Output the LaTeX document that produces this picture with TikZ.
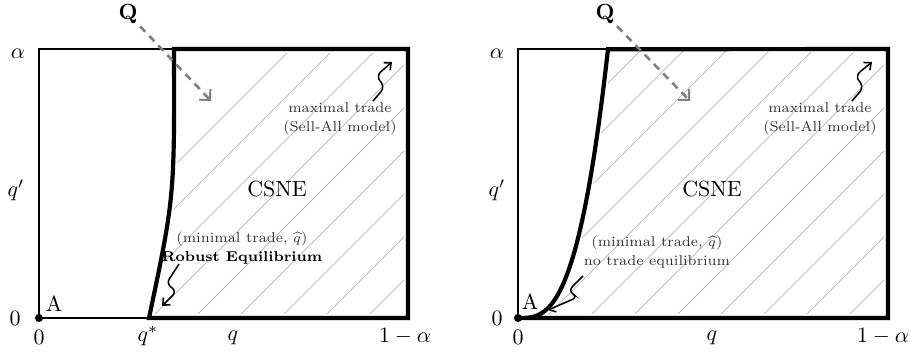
\documentclass[tikz,border=0pt]{standalone}
\usepackage{amsmath}
\usepackage{tikz}
\usetikzlibrary{arrows.meta, positioning}

\begin{document}
\begin{tikzpicture}[x=0.016cm, y=0.016cm,
    edge/.style={line width=0.7pt},
    border/.style={line width=1.9pt, line join=miter},
    hatch/.style={gray!50, line width=0.4pt},
    qarr/.style={-{Straight Barb[length=3.5pt, width=7pt, line width=0.9pt]}, gray,
                 line width=1.2pt, dash pattern=on 3.4pt off 2.6pt},
    squig/.style={-{Straight Barb[length=2.6pt, width=4.6pt]}, line width=0.7pt,
                  rounded corners=2.8pt},
    note/.style={font=\fontsize{6.5}{8.6}\selectfont, align=center, text=black!80, inner sep=1pt},
    tick/.style={inner sep=1pt}
]
    \useasboundingbox (0,0) rectangle (910,352);

    % left panel: hatched CSNE region
    \begin{scope}
        \clip (153,38) .. controls (178.5,155) .. (178,299) -- (404,299) -- (404,38) -- cycle;
        \foreach \k in {-7,...,6}
            \draw[hatch] ({323+43*\k},34) -- ++(269,269);
    \end{scope}
    \draw[edge] (174,303) -- (39,303) -- (39,34) -- (149,34);
    \draw[border] (149,34) .. controls (174.5,155) .. (174,303) -- (408,303) -- (408,34) -- cycle;

    \node[circle, fill, inner sep=1.3pt] (oL) at (39,34) {};
    \node[tick] (aL) at (18,298) {$\alpha$};
    \node[tick] (qpL) at (16,162) {$q'$};
    \node[tick] (zyL) at (15,34) {$0$};
    \node[tick] (zxL) at (39,15) {$0$};
    \node[tick] (qsL) at (148,16) {$q^*$};
    \node[tick] (qL) at (233,14) {$q$};
    \node[tick] (oneL) at (405,16) {$1-\alpha$};
    \node[tick] (ptL) at (54,48) {A};
    \node (csL) at (277,163) {CSNE};
    \node[tick] (QL) at (128,338) {$\mathbf{Q}$};
    \coordinate (dL) at (211,251);
    \draw[qarr] (QL.south east) -- (dL);

    \node[note] (maxL) at (340,233) {maximal trade\\(Sell-All model)};
    \coordinate (maxsL) at (373,251);
    \coordinate (maxtL) at (392,290);
    \draw[squig] (maxsL) -- (385,265) -- (376,276) -- (maxtL);

    \node[note] (minL) at (242,104) {(minimal trade, $\widehat{q}$)\\{\color{black}\bfseries Robust Equilibrium}};
    \coordinate (minsL) at (179,88);
    \coordinate (mintL) at (162,46);
    \draw[squig] (minsL) -- (166,68) -- (177,61) -- (mintL);

    % right panel: hatched CSNE region
    \begin{scope}
        \clip plot[domain=0.18:1, samples=40] ({522+90*\x},{34+269*\x^3}) -- (884,299) -- (884,38) -- (540,38) -- cycle;
        \foreach \k in {-8,...,7}
            \draw[hatch] ({588+43*\k},34) -- ++(269,269);
    \end{scope}
    \draw[edge] (608,303) -- (518,303) -- (518,34);
    \draw[border] plot[domain=0:1, samples=50] ({518+90*\x},{34+269*\x^3}) -- (888,303) -- (888,34) -- cycle;

    \node[circle, fill, inner sep=1.3pt] (oR) at (518,34) {};
    \node[tick] (aR) at (497,298) {$\alpha$};
    \node[tick] (qpR) at (497,162) {$q'$};
    \node[tick] (zyR) at (497,34) {$0$};
    \node[tick] (zxR) at (518,15) {$0$};
    \node[tick] (qR) at (712,14) {$q$};
    \node[tick] (oneR) at (883,16) {$1-\alpha$};
    \node[tick] (ptR) at (530,50) {A};
    \node (csR) at (712,163) {CSNE};
    \node[tick] (QR) at (605,338) {$\mathbf{Q}$};
    \coordinate (dR) at (690,251);
    \draw[qarr] (QR.south east) -- (dR);

    \node[note] (maxR) at (820,233) {maximal trade\\(Sell-All model)};
    \coordinate (maxsR) at (852,251);
    \coordinate (maxtR) at (872,290);
    \draw[squig] (maxsR) -- (864,265) -- (855,276) -- (maxtR);

    \node[note] (minR) at (657,100) {(minimal trade, $\widehat{q}$)\\no trade equilibrium};
    \coordinate (minsR) at (583,76);
    \coordinate (mintR) at (548,42);
    \draw[squig] (minsR) -- (568,61) -- (578,55) -- (mintR);
\end{tikzpicture}
\end{document}
